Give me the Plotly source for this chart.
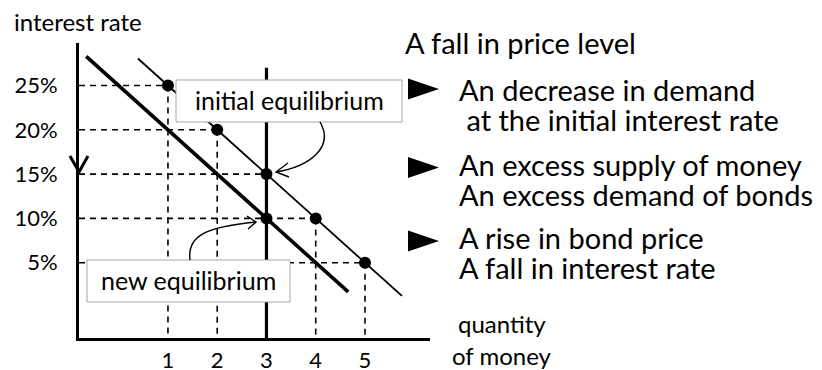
import plotly.graph_objects as go

# ---------------- data ----------------
money_qty = [1, 2, 3, 4, 5]                 # quantity of money at the marked points
interest_rates = [25, 20, 15, 10, 5]        # interest rate (%) on the initial demand curve
new_eq_qty = [3]
new_eq_rate = [10]

initial_demand_x = [0.39, 5.75]
initial_demand_y = [28.05, 1.25]
new_demand_x = [-0.66, 4.66]
new_demand_y = [28.3, 1.7]
money_supply_x = [3, 3]
money_supply_y = [-3.5, 27.0]

x_ticks = [1, 2, 3, 4, 5]
x_tick_labels = ["1", "2", "3", "4", "5"]
y_ticks = [5, 10, 15, 20, 25]
y_tick_labels = ["5%", "10%", "15%", "20%", "25%"]

X_MIN, X_MAX = -0.806, 6.32
Y_MIN, Y_MAX = -3.5, 29.8

FONT = "Lato"
W, H = 822, 370
ML, MR, MT, MB = 79, 392, 43, 32
PW, PH = W - ML - MR, H - MT - MB


def px(x):
    return (x - ML) / PW


def py(y):
    return (H - MB - y) / PH


fig = go.Figure()

# dashed guide lines
guide_pts = list(zip(money_qty, interest_rates))
for q, r in guide_pts:
    fig.add_trace(go.Scatter(x=[X_MIN, q], y=[r, r], mode="lines",
                             line=dict(color="black", width=1.6, dash="6px,5px"),
                             hoverinfo="skip", showlegend=False))
    fig.add_trace(go.Scatter(x=[q, q], y=[r, Y_MIN], mode="lines",
                             line=dict(color="black", width=1.6, dash="6px,5px"),
                             hoverinfo="skip", showlegend=False))

fig.add_trace(go.Scatter(x=money_supply_x, y=money_supply_y, mode="lines",
                         line=dict(color="black", width=3.2), showlegend=False))
fig.add_trace(go.Scatter(x=new_demand_x, y=new_demand_y, mode="lines",
                         line=dict(color="black", width=3.6), showlegend=False))
fig.add_trace(go.Scatter(x=initial_demand_x, y=initial_demand_y, mode="lines",
                         line=dict(color="black", width=1.8), showlegend=False))
fig.add_trace(go.Scatter(x=money_qty, y=interest_rates, mode="markers",
                         marker=dict(color="black", size=12), showlegend=False))
fig.add_trace(go.Scatter(x=new_eq_qty, y=new_eq_rate, mode="markers",
                         marker=dict(color="black", size=12), showlegend=False))

shapes = []
# label boxes (drawn above the lines)
shapes.append(dict(type="rect", xref="paper", yref="paper",
                   x0=px(176), x1=px(402), y0=py(122), y1=py(80),
                   fillcolor="white", line=dict(color="#a6a6a6", width=1), layer="above"))
shapes.append(dict(type="rect", xref="paper", yref="paper",
                   x0=px(87), x1=px(290), y0=py(302), y1=py(260),
                   fillcolor="white", line=dict(color="#a6a6a6", width=1), layer="above"))


def ppath(points, cmd):
    return cmd.format(*[f"{px(a):.4f},{py(b):.4f}" for a, b in points])


# curved arrow to the initial equilibrium
shapes.append(dict(type="path", xref="paper", yref="paper", layer="above",
                   path=ppath([(320, 122), (334, 146), (312, 166), (276, 172)], "M{} C{} {} {}"),
                   line=dict(color="black", width=1.4)))
shapes.append(dict(type="path", xref="paper", yref="paper", layer="above",
                   path=ppath([(288, 163), (276, 172), (289, 177)], "M{} L{} L{}"),
                   line=dict(color="black", width=1.4)))
# curved arrow to the new equilibrium
shapes.append(dict(type="path", xref="paper", yref="paper", layer="above",
                   path=ppath([(190, 260), (187, 236), (205, 227), (256, 222)], "M{} C{} {} {}"),
                   line=dict(color="black", width=1.4)))
shapes.append(dict(type="path", xref="paper", yref="paper", layer="above",
                   path=ppath([(247, 216), (256, 222), (248, 229)], "M{} L{} L{}"),
                   line=dict(color="black", width=1.4)))
# arrow head on the vertical axis
shapes.append(dict(type="path", xref="paper", yref="paper", layer="above",
                   path=ppath([(70, 156), (79, 172), (88, 156)], "M{} L{} L{}"),
                   line=dict(color="black", width=3)))
# bullet triangles
for yc in [89, 167.5, 241]:
    shapes.append(dict(type="path", xref="paper", yref="paper", layer="above",
                       path=ppath([(408, yc - 10.5), (439, yc), (408, yc + 10.5)], "M{} L{} L{} Z"),
                       fillcolor="black", line=dict(color="black", width=0)))

ann = []


def text(t, x, y, size, xanchor="left"):
    ann.append(dict(text=t, x=px(x), y=py(y), xref="paper", yref="paper",
                    xanchor=xanchor, yanchor="middle", showarrow=False,
                    font=dict(family=FONT, size=size, color="black")))


text("interest rate", 12, 21, 24)
text("initial equilibrium", 289, 100, 25, "center")
text("new equilibrium", 188, 280, 25, "center")
text("A fall in price level", 403, 42.5, 29)
text("An decrease in demand", 457, 89.5, 29)
text(" at the initial interest rate", 457, 119.5, 29)
text("An excess supply of money", 457, 164.5, 29)
text("An excess demand of bonds", 457, 194.5, 29)
text("A rise in bond price", 457, 237.5, 29)
text("A fall in interest rate", 457, 267.5, 29)
text("quantity", 502, 323.5, 24, "center")
text("of money", 502, 355, 24, "center")

fig.update_layout(
    width=W, height=H,
    margin=dict(l=ML, r=MR, t=MT, b=MB, autoexpand=False),
    paper_bgcolor="white", plot_bgcolor="white",
    shapes=shapes, annotations=ann,
    font=dict(family=FONT, color="black"),
)
fig.update_xaxes(range=[X_MIN, X_MAX], showgrid=False, zeroline=False, automargin=False,
                 showline=True, linecolor="black", linewidth=3,
                 tickvals=x_ticks, ticktext=x_tick_labels,
                 ticks="outside", ticklen=1, tickcolor="rgba(0,0,0,0)",
                 tickfont=dict(family=FONT, size=22, color="black"))
fig.update_yaxes(range=[Y_MIN, Y_MAX], showgrid=False, zeroline=False, automargin=False,
                 showline=True, linecolor="black", linewidth=3,
                 tickvals=y_ticks, ticktext=y_tick_labels,
                 ticks="outside", ticklen=14, tickcolor="rgba(0,0,0,0)",
                 tickfont=dict(family=FONT, size=22, color="black"))

fig.write_html("out.html", config={"displayModeBar": False},
               post_script="document.body.style.margin='0';document.body.style.overflow='hidden';")
